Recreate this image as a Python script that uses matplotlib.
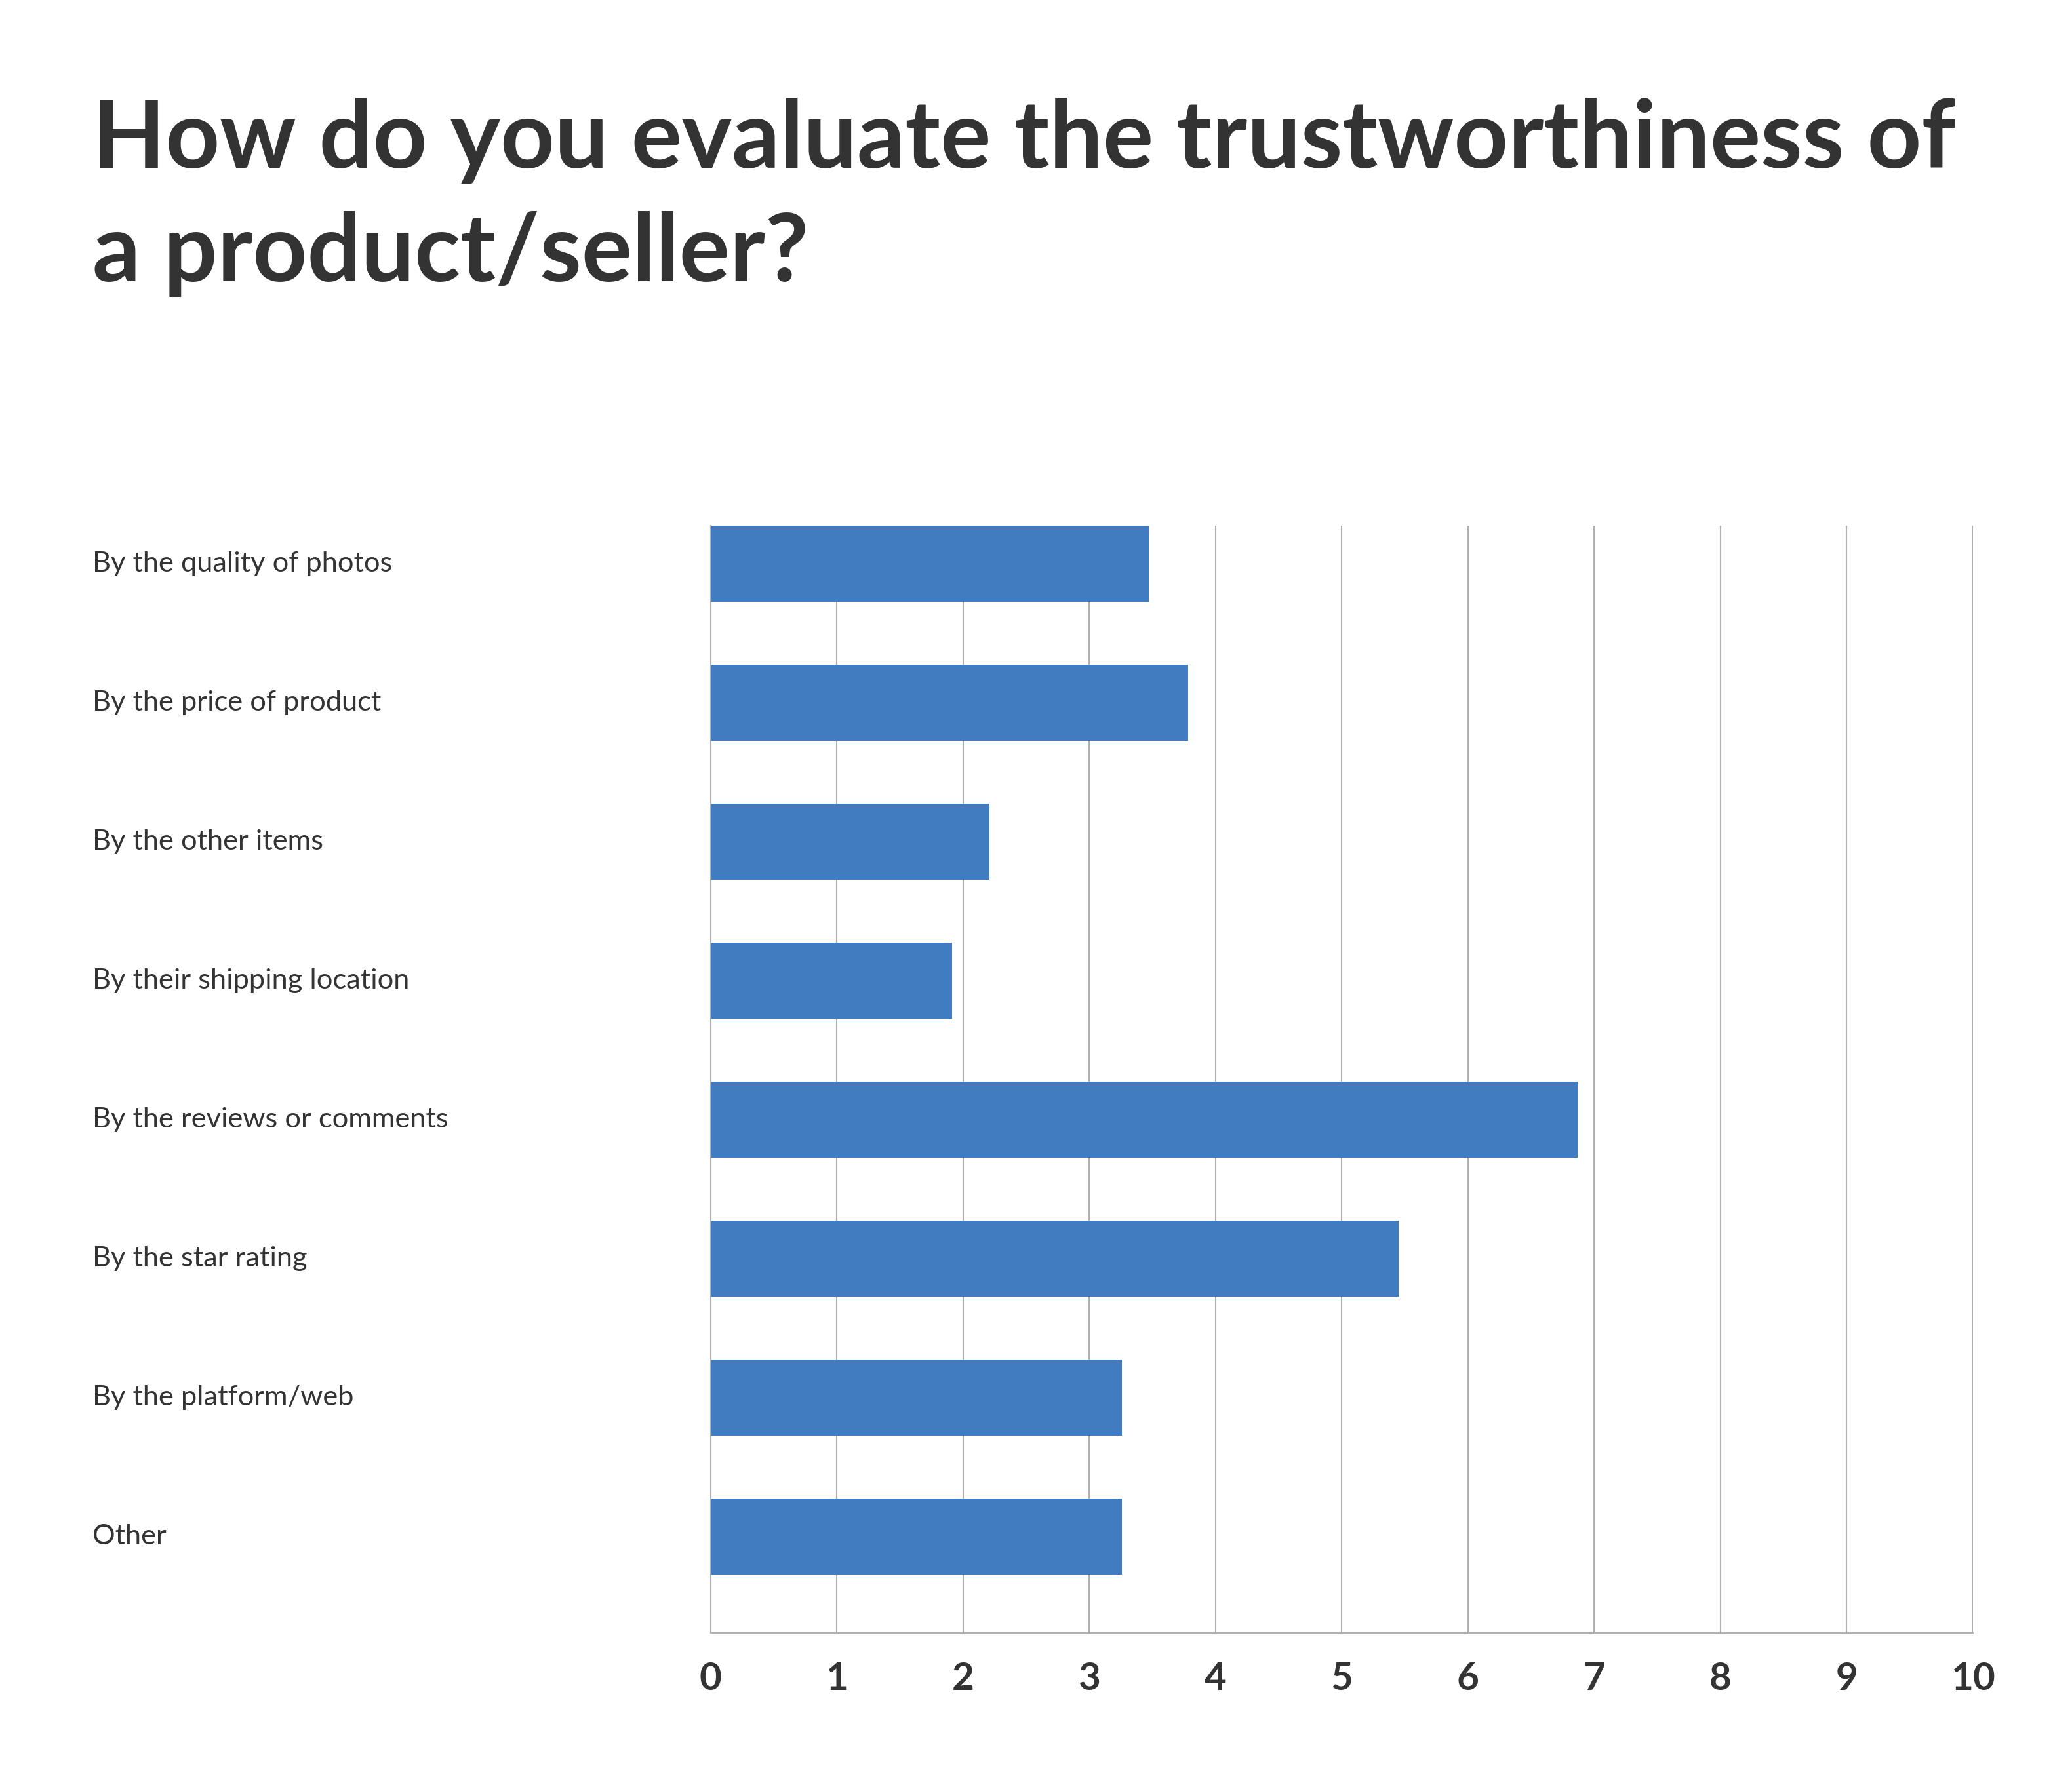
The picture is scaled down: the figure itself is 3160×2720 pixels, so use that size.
import matplotlib.pyplot as plt

# survey answers, top to bottom
categories = [
    "By the quality of photos",
    "By the price of product",
    "By the other items",
    "By their shipping location",
    "By the reviews or comments",
    "By the star rating",
    "By the platform/web",
    "Other",
]
values = [3.47, 3.78, 2.21, 1.91, 6.87, 5.45, 3.26, 3.26]
x_ticks = list(range(0, 11))

title_lines = ["How do you evaluate the trustworthiness of", "a product/seller?"]

plt.rcParams["font.family"] = ["Lato", "DejaVu Sans"]

fig = plt.figure(figsize=(15.8, 13.6), dpi=200)
ax = fig.add_axes([0.3430, 0.0842, 0.6092, 0.6209])

bar_h = 0.547
ypos = list(range(len(categories)))
ax.barh(ypos, values, height=bar_h, color="#407cbf", zorder=3)

ax.set_xlim(0, 10)
ax.set_ylim(len(categories) - 1 + 0.693, -bar_h / 2)

ax.set_xticks(x_ticks)
ax.set_xticklabels([str(t) for t in x_ticks], fontsize=21, fontweight="bold", color="#333333")
ax.tick_params(axis="x", length=0, pad=16)
ax.set_yticks([])
ax.grid(axis="x", color="#b0b0b0", linewidth=0.75, zorder=0)

for s in ["top", "right"]:
    ax.spines[s].set_visible(False)
for s in ["left", "bottom"]:
    ax.spines[s].set_color("#b0b0b0")
    ax.spines[s].set_linewidth(0.75)

# category labels sit at the far left of the figure
for y, label in zip(ypos, categories):
    ax.annotate(label, xy=(141 / 3160, y), xycoords=("figure fraction", "data"),
                ha="left", va="center", fontsize=15.6, color="#333333")

# title, one text per line so each baseline can be placed
for baseline_px, line in zip([256, 429], title_lines):
    fig.text(141 / 3160, 1 - baseline_px / 2720, line, ha="left", va="baseline",
             fontsize=52, fontweight="bold", color="#333333")

fig.savefig("out.png", dpi=200, facecolor="white")
